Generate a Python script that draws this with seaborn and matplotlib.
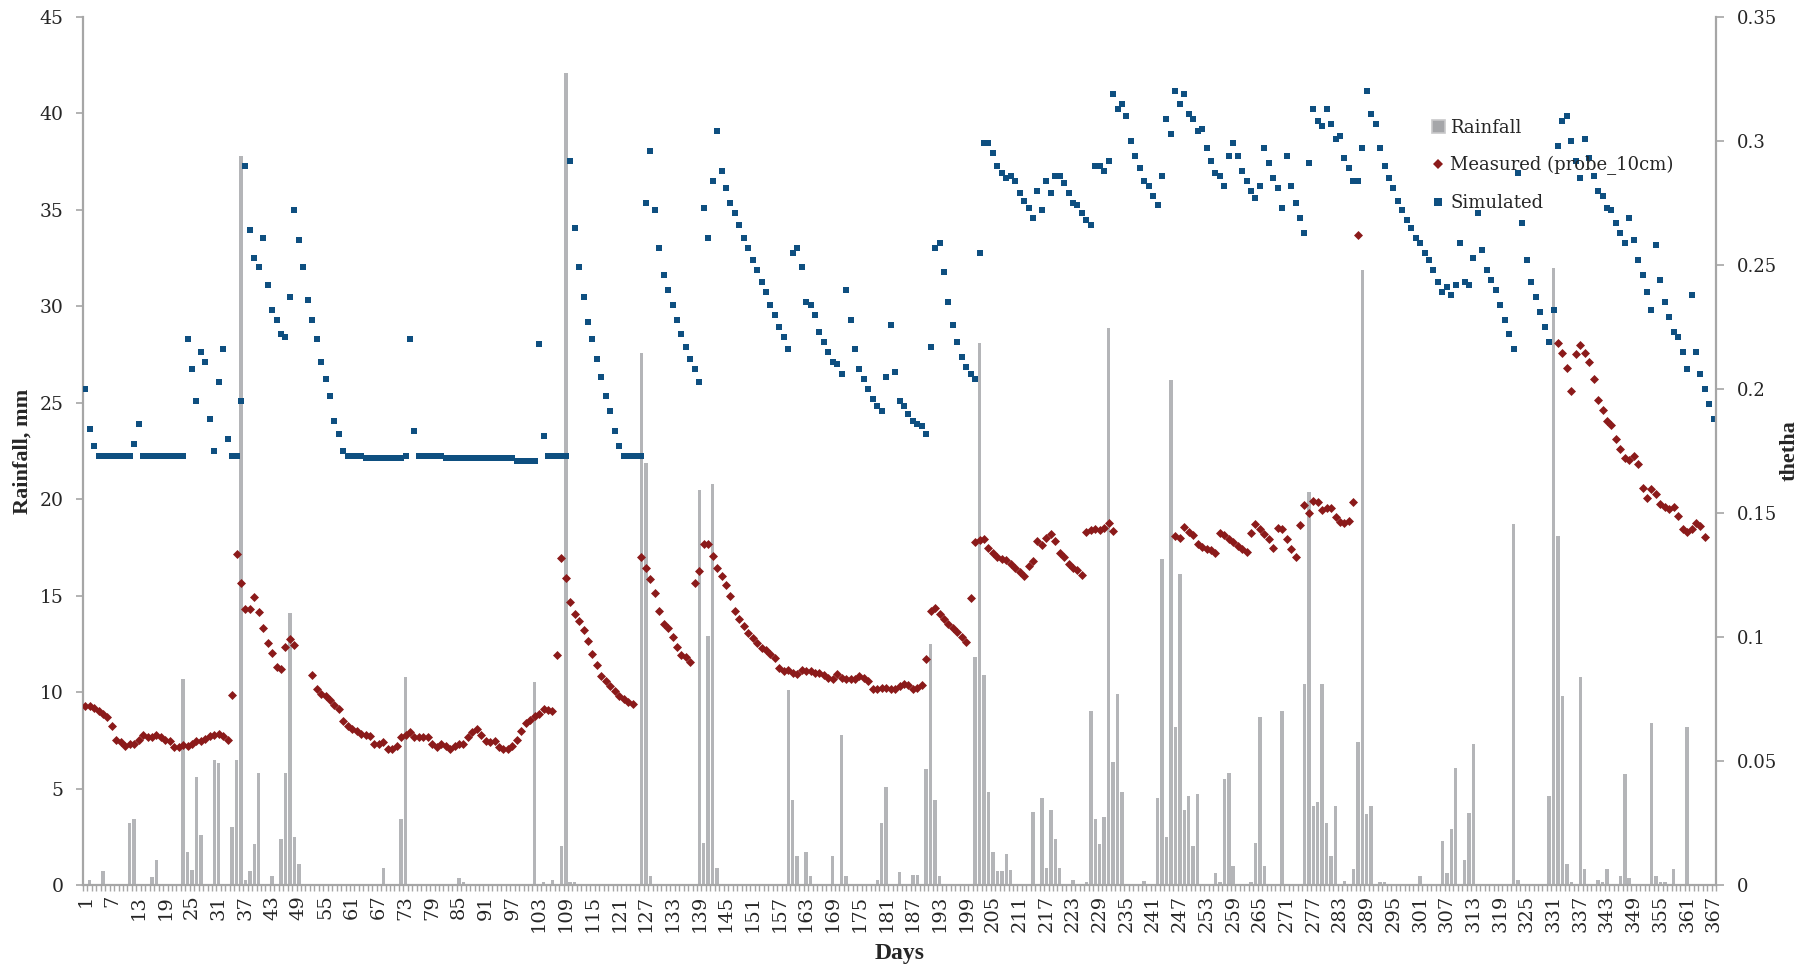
import numpy as np
import pandas as pd
import matplotlib
matplotlib.use("Agg")
import matplotlib.pyplot as plt
from matplotlib.lines import Line2D
from matplotlib.patches import Patch
import seaborn as sns

nan = np.nan

# ---------------------------------------------------------------- data
days = np.arange(1, 368)

# daily rainfall (mm); days not listed had no rain
rain_days = [2, 5, 11, 12, 16, 17, 23, 24, 25, 26, 27, 30, 31, 34, 35, 36, 37, 38, 39, 40,
             43, 45, 46, 47, 48, 49, 68, 72, 73, 85, 86, 102, 104, 106, 108, 109, 110, 111,
             126, 127, 128, 139, 140, 141, 142, 143, 159, 160, 161, 163, 164, 169, 171, 172,
             179, 180, 181, 184, 187, 188, 190, 191, 192, 193, 201, 202, 203, 204, 205, 206,
             207, 208, 209, 214, 216, 217, 218, 219, 220, 223, 226, 227, 228, 229, 230, 231,
             232, 233, 234, 239, 242, 243, 244, 245, 246, 247, 248, 249, 250, 251, 255, 256,
             257, 258, 259, 263, 264, 265, 266, 270, 275, 276, 277, 278, 279, 280, 281, 282,
             284, 286, 287, 288, 289, 290, 292, 293, 301, 306, 307, 308, 309, 311, 312, 313,
             322, 323, 330, 331, 332, 333, 334, 335, 337, 338, 341, 342, 343, 346, 347, 348,
             353, 354, 355, 356, 358, 361]
rain_mm = [0.25, 0.7, 3.2, 3.4, 0.4, 1.3, 10.7, 1.7, 0.8, 5.6, 2.6, 6.5, 6.3, 3.0, 6.5, 37.8, 0.25, 0.7, 2.1, 5.8,
           0.45, 2.4, 5.8, 14.1, 2.5, 1.1, 0.9, 3.4, 10.8, 0.35, 0.15, 10.5, 0.15, 0.25, 2.0, 42.1, 0.15, 0.15,
           27.6, 21.9, 0.45, 20.5, 2.2, 12.9, 20.8, 0.9, 10.1, 4.4, 1.5, 1.7, 0.45, 1.5, 7.8, 0.45,
           0.25, 3.2, 5.1, 0.65, 0.5, 0.5, 6.0, 12.5, 4.4, 0.45, 11.8, 28.1, 10.9, 4.8, 1.7, 0.7,
           0.7, 1.6, 0.8, 3.8, 4.5, 0.9, 3.9, 2.4, 0.9, 0.25, 0.15, 9.0, 3.4, 2.1, 3.5, 28.9,
           6.4, 9.9, 4.8, 0.2, 4.5, 16.9, 2.5, 26.2, 8.2, 16.1, 3.9, 4.6, 2.0, 4.7, 0.6, 0.15,
           5.5, 5.8, 1.0, 0.15, 2.2, 8.7, 1.0, 9.0, 10.4, 20.4, 4.1, 4.3, 10.4, 3.2, 1.5, 4.1,
           0.2, 0.85, 7.4, 31.9, 3.7, 4.1, 0.15, 0.15, 0.45, 2.3, 0.6, 2.9, 6.05, 1.3, 3.75, 7.3,
           18.7, 0.25, 4.6, 32.0, 18.1, 9.8, 1.1, 0.15, 10.8, 0.85, 0.25, 0.15, 0.85, 0.45, 5.75, 0.35,
           8.4, 0.45, 0.15, 0.15, 0.85, 8.2]

# simulated volumetric water content, days 1-367
simulated = [
    0.200, 0.184, 0.177, 0.173, 0.173, 0.173, 0.173, 0.173, 0.173, 0.173,
    0.173, 0.178, 0.186, 0.173, 0.173, 0.173, 0.173, 0.173, 0.173, 0.173,
    0.173, 0.173, 0.173, 0.220, 0.208, 0.195, 0.215, 0.211, 0.188, 0.175,
    0.203, 0.216, 0.180, 0.173, 0.173, 0.195, 0.290, 0.264, 0.253, 0.249,
    0.261, 0.242, 0.232, 0.228, 0.222, 0.221, 0.237, 0.272, 0.260, 0.249,
    0.236, 0.228, 0.220, 0.211, 0.204, 0.197, 0.187, 0.182, 0.175, 0.173,
    0.173, 0.173, 0.173, 0.172, 0.172, 0.172, 0.172, 0.172, 0.172, 0.172,
    0.172, 0.172, 0.173, 0.220, 0.183, 0.173, 0.173, 0.173, 0.173, 0.173,
    0.173, 0.172, 0.172, 0.172, 0.172, 0.172, 0.172, 0.172, 0.172, 0.172,
    0.172, 0.172, 0.172, 0.172, 0.172, 0.172, 0.172, 0.171, 0.171, 0.171,
    0.171, 0.171, 0.218, 0.181, 0.173, 0.173, 0.173, 0.173, 0.173, 0.292,
    0.265, 0.249, 0.237, 0.227, 0.220, 0.212, 0.205, 0.197, 0.191, 0.183,
    0.177, 0.173, 0.173, 0.173, 0.173, 0.173, 0.275, 0.296, 0.272, 0.257,
    0.246, 0.240, 0.234, 0.228, 0.222, 0.217, 0.212, 0.208, 0.203, 0.273,
    0.261, 0.284, 0.304, 0.288, 0.281, 0.275, 0.271, 0.266, 0.261, 0.257,
    0.252, 0.248, 0.243, 0.239, 0.234, 0.230, 0.225, 0.221, 0.216, 0.255,
    0.257, 0.249, 0.235, 0.234, 0.230, 0.223, 0.219, 0.215, 0.211, 0.210,
    0.206, 0.240, 0.228, 0.216, 0.208, 0.204, 0.200, 0.196, 0.193, 0.191,
    0.205, 0.226, 0.207, 0.195, 0.193, 0.190, 0.187, 0.186, 0.185, 0.182,
    0.217, 0.257, 0.259, 0.247, 0.235, 0.226, 0.219, 0.213, 0.209, 0.206,
    0.204, 0.255, 0.299, 0.299, 0.295, 0.290, 0.287, 0.285, 0.286, 0.284,
    0.279, 0.276, 0.273, 0.269, 0.280, 0.272, 0.284, 0.279, 0.286, 0.286,
    0.283, 0.279, 0.275, 0.274, 0.271, 0.268, 0.266, 0.290, 0.290, 0.288,
    0.292, 0.319, 0.313, 0.315, 0.310, 0.300, 0.294, 0.289, 0.284, 0.282,
    0.278, 0.274, 0.286, 0.309, 0.303, 0.320, 0.315, 0.319, 0.311, 0.309,
    0.304, 0.305, 0.297, 0.292, 0.287, 0.286, 0.282, 0.294, 0.299, 0.294,
    0.288, 0.284, 0.280, 0.277, 0.282, 0.297, 0.291, 0.285, 0.281, 0.273,
    0.294, 0.282, 0.275, 0.269, 0.263, 0.291, 0.313, 0.308, 0.306, 0.313,
    0.307, 0.301, 0.302, 0.293, 0.289, 0.284, 0.284, 0.297, 0.320, 0.311,
    0.307, 0.297, 0.290, 0.285, 0.281, 0.276, 0.272, 0.268, 0.265, 0.261,
    0.259, 0.255, 0.252, 0.248, 0.243, 0.239, 0.241, 0.238, 0.242, 0.259,
    0.243, 0.242, 0.253, 0.271, 0.256, 0.248, 0.244, 0.240, 0.234, 0.228,
    0.222, 0.216, 0.287, 0.267, 0.252, 0.243, 0.237, 0.231, 0.225, 0.219,
    0.232, 0.298, 0.308, 0.310, 0.300, 0.292, 0.285, 0.301, 0.293, 0.286,
    0.280, 0.278, 0.273, 0.272, 0.267, 0.263, 0.259, 0.269, 0.260, 0.252,
    0.246, 0.239, 0.232, 0.258, 0.244, 0.235, 0.229, 0.223, 0.221, 0.215,
    0.208, 0.238, 0.215, 0.206, 0.200, 0.194, 0.188,
]

# measured water content at 10 cm (probe), days 1-367; gaps are missing records
measured = [
    0.0723, 0.0723, 0.0713, 0.0700, 0.0688, 0.0678, 0.0640, 0.0585, 0.0575, 0.0560,
    0.0570, 0.0570, 0.0585, 0.0605, 0.0595, 0.0595, 0.0605, 0.0595, 0.0585, 0.0580,
    0.0555, 0.0555, 0.0565, 0.0560, 0.0570, 0.0580, 0.0580, 0.0590, 0.0600, 0.0605,
    0.0610, 0.0600, 0.0585, 0.0768, 0.1336, 0.1218, 0.1111, 0.1111, 0.1161, 0.1101,
    0.1036, 0.0976, 0.0936, 0.0881, 0.0871, 0.0961, 0.0991, 0.0966, nan, nan,
    nan, 0.0846, 0.0791, 0.0771, 0.0761, 0.0745, 0.0725, 0.0711, 0.0661, 0.0640,
    0.0630, 0.0620, 0.0610, 0.0605, 0.0600, 0.0570, 0.0570, 0.0575, 0.0550, 0.0550,
    0.0560, 0.0595, 0.0605, 0.0615, 0.0595, 0.0595, 0.0595, 0.0595, 0.0570, 0.0555,
    0.0570, 0.0560, 0.0550, 0.0560, 0.0570, 0.0570, 0.0595, 0.0615, 0.0630, 0.0605,
    0.0580, 0.0575, 0.0580, 0.0555, 0.0550, 0.0550, 0.0560, 0.0585, 0.0620, 0.0655,
    0.0665, 0.0680, 0.0690, 0.0710, 0.0705, 0.0700, 0.0926, 0.1319, 0.1238, 0.1143,
    0.1093, 0.1063, 0.1028, 0.0983, 0.0933, 0.0888, 0.0843, 0.0823, 0.0803, 0.0783,
    0.0763, 0.0748, 0.0738, 0.0728, nan, 0.1323, 0.1278, 0.1233, 0.1178, 0.1103,
    0.1053, 0.1038, 0.0998, 0.0958, 0.0928, 0.0918, 0.0901, 0.1218, 0.1266, 0.1376,
    0.1376, 0.1326, 0.1280, 0.1246, 0.1210, 0.1166, 0.1106, 0.1071, 0.1046, 0.1016,
    0.0996, 0.0976, 0.0956, 0.0946, 0.0931, 0.0916, 0.0876, 0.0861, 0.0866, 0.0856,
    0.0851, 0.0866, 0.0861, 0.0861, 0.0856, 0.0856, 0.0846, 0.0836, 0.0831, 0.0851,
    0.0836, 0.0831, 0.0831, 0.0831, 0.0841, 0.0836, 0.0821, 0.0791, 0.0791, 0.0796,
    0.0796, 0.0791, 0.0791, 0.0801, 0.0811, 0.0806, 0.0791, 0.0796, 0.0806, 0.0911,
    0.1106, 0.1116, 0.1091, 0.1071, 0.1051, 0.1036, 0.1021, 0.1001, 0.0981, 0.1156,
    0.1384, 0.1392, 0.1395, 0.1357, 0.1337, 0.1321, 0.1313, 0.1310, 0.1294, 0.1277,
    0.1263, 0.1246, 0.1287, 0.1307, 0.1388, 0.1371, 0.1400, 0.1415, 0.1388, 0.1340,
    0.1321, 0.1294, 0.1277, 0.1270, 0.1250, 0.1422, 0.1431, 0.1434, 0.1431, 0.1438,
    0.1458, 0.1429, nan, nan, nan, nan, nan, nan, nan, nan,
    nan, nan, nan, nan, nan, 0.1409, 0.1398, 0.1442, 0.1422, 0.1411,
    0.1375, 0.1361, 0.1355, 0.1351, 0.1340, 0.1420, 0.1411, 0.1395, 0.1384, 0.1367,
    0.1353, 0.1344, 0.1418, 0.1456, 0.1434, 0.1415, 0.1395, 0.1360, 0.1438, 0.1434,
    0.1395, 0.1355, 0.1321, 0.1451, 0.1532, 0.1502, 0.1549, 0.1543, 0.1514, 0.1521,
    0.1521, 0.1485, 0.1465, 0.1461, 0.1469, 0.1543, 0.2620, nan, nan, nan,
    nan, nan, nan, nan, nan, nan, nan, nan, nan, nan,
    nan, nan, nan, nan, nan, nan, nan, nan, nan, nan,
    nan, nan, nan, nan, nan, nan, nan, nan, nan, nan,
    nan, nan, nan, nan, nan, nan, nan, nan, nan, nan,
    nan, 0.2184, 0.2144, 0.2083, 0.1993, 0.2141, 0.2177, 0.2144, 0.2107, 0.2040,
    0.1955, 0.1915, 0.1872, 0.1855, 0.1797, 0.1757, 0.1720, 0.1713, 0.1730, 0.1697,
    0.1600, 0.1559, 0.1597, 0.1577, 0.1535, 0.1525, 0.1515, 0.1523, 0.1488, 0.1434,
    0.1425, 0.1434, 0.1458, 0.1447, 0.1404, nan, nan,
]

left_ticks = [0, 5, 10, 15, 20, 25, 30, 35, 40, 45]
right_ticks = [0, 0.05, 0.10, 0.15, 0.20, 0.25, 0.30, 0.35]
right_labels = ["0", "0.05", "0.1", "0.15", "0.2", "0.25", "0.3", "0.35"]

# ---------------------------------------------------------------- table
rain = np.zeros(len(days))
rain[np.array(rain_days) - 1] = rain_mm
df = pd.DataFrame({"day": days, "rain": rain,
                   "simulated": simulated, "measured": measured})

# ---------------------------------------------------------------- style
sns.set_style("white")
plt.rcParams["font.family"] = ["Liberation Serif", "DejaVu Serif"]

BAR = "#B4B5B8"
RED = "#8B1A1A"
BLUE = "#0E4F80"
AXIS = "#A6A6A6"
TXT = "#262626"

fig = plt.figure(figsize=(18.05, 9.73), dpi=100)
ax = fig.add_axes([83 / 1805, 1 - 885 / 973, (1716 - 83) / 1805, (885 - 17) / 973])

sns.barplot(data=df, x="day", y="rain", native_scale=True, width=0.78,
            color=BAR, saturation=1, errorbar=None, linewidth=0, ax=ax)

ax2 = ax.twinx()
sns.scatterplot(data=df, x="day", y="simulated", marker="s", s=20, color=BLUE,
                linewidth=0, legend=False, ax=ax2)
sns.scatterplot(data=df, x="day", y="measured", marker="D", s=21, color=RED,
                linewidth=0, legend=False, ax=ax2)

# ---------------------------------------------------------------- axes
ax.set_xlim(0.5, 367.5)
ax.set_ylim(0, 45)
ax2.set_ylim(0, 0.35)

for a in (ax, ax2):
    for s in a.spines.values():
        s.set_visible(False)
ax.spines["left"].set_visible(True)
ax.spines["bottom"].set_visible(True)
ax2.spines["right"].set_visible(True)
for s in (ax.spines["left"], ax.spines["bottom"], ax2.spines["right"]):
    s.set_color(AXIS)
    s.set_linewidth(1.6)

ax.set_yticks(left_ticks)
ax.set_yticklabels([str(v) for v in left_ticks], family="DejaVu Serif",
                   fontsize=13.5, color=TXT)
ax.tick_params(axis="y", direction="out", length=5, width=1.2, color=AXIS, pad=9, left=True)

ax2.set_yticks(right_ticks)
ax2.set_yticklabels(right_labels, family="DejaVu Serif", fontsize=13, color=TXT)
ax2.tick_params(axis="y", direction="out", length=6, width=1.2, color=AXIS, pad=9, right=True)

xt = np.arange(1, 368, 6)
ax.set_xticks(xt)
ax.set_xticklabels([str(v) for v in xt], rotation=90, fontsize=14,
                   family="DejaVu Serif", color=TXT)
ax.set_xticks(np.arange(0.5, 368, 1), minor=True)
ax.tick_params(axis="x", which="major", length=0, pad=7, bottom=True)
ax.tick_params(axis="x", which="minor", length=4, width=1.0, color=AXIS, bottom=True)

ax.set_xlabel("Days", fontsize=17, fontweight="bold", color=TXT, labelpad=8)
ax.set_ylabel("Rainfall, mm", fontsize=16, fontweight="bold", color=TXT, labelpad=5)
ax2.set_ylabel("thetha", fontsize=16, fontweight="bold", color=TXT, labelpad=2)
ax.grid(False)
ax2.grid(False)

# ---------------------------------------------------------------- legend
handles = [
    Patch(facecolor="#A5A6A9", edgecolor="#C8C8CA", linewidth=1.2, label="Rainfall"),
    Line2D([], [], linestyle="none", marker="D", markersize=5, color=RED,
           markeredgewidth=0, label="Measured (probe_10cm)"),
    Line2D([], [], linestyle="none", marker="s", markersize=6, color=BLUE,
           markeredgewidth=0, label="Simulated"),
]
leg = ax2.legend(handles=handles, loc="upper left",
                 bbox_to_anchor=(1432 / 1805, 1 - 119 / 973),
                 bbox_transform=fig.transFigure, frameon=False,
                 prop={"family": "DejaVu Serif", "size": 13},
                 handlelength=0.7, handleheight=0.7, handletextpad=0.3,
                 labelspacing=1.05, borderpad=0, borderaxespad=0)
for t in leg.get_texts():
    t.set_color(TXT)

fig.savefig("out.png", dpi=100)
